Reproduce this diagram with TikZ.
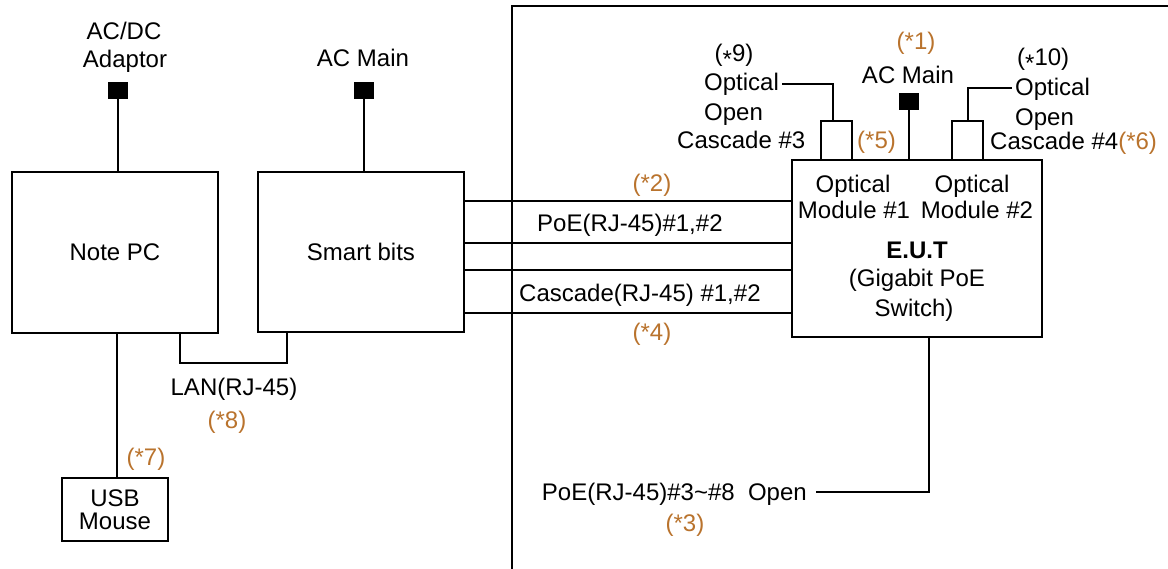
\documentclass[tikz,border=0pt]{standalone}
\usepackage{fontspec}
\setmainfont{Liberation Sans}
\definecolor{note}{RGB}{185,115,45}
\newcommand{\cstar}{\raisebox{-0.55ex}{*}}
\begin{document}
\begin{tikzpicture}[x=1pt,y=-1pt,
  font=\fontsize{24}{28}\selectfont,
  wire/.style={line width=2pt},
  unit/.style={draw, line width=2pt, inner sep=0pt, outer sep=0pt, anchor=north west, align=center},
  plug/.style={fill=black, inner sep=0pt, outer sep=0pt, anchor=north west},
  lbl/.style={inner sep=0pt, anchor=base},
  lblw/.style={inner sep=0pt, anchor=base west},
  refl/.style={lbl, text=note},
]
\useasboundingbox (0,0) rectangle (1168,568);

% outer frame of the test area
\draw[wire] (512,570) -- (512,6) -- (1170,6);

% units
\node[unit, minimum width=206pt, minimum height=161pt] (pc) at (12,172) {Note PC};
\node[unit, minimum width=206pt, minimum height=160pt] (sb) at (258,172) {Smart bits};
\node[unit, minimum width=250pt, minimum height=177pt] (eut) at (792,160) {};
\node[unit, minimum width=106pt, minimum height=63pt, font=\fontsize{24}{23}\selectfont] (mouse) at (62,478) {USB\\Mouse};

% plugs and ports
\node[plug, minimum width=20pt, minimum height=17pt] (plug1) at (108,82) {};
\node[plug, minimum width=20pt, minimum height=17pt] (plug2) at (354,82) {};
\node[plug, minimum width=20pt, minimum height=17pt] (plug3) at (899,93) {};
\node[unit, minimum width=31pt, minimum height=39pt] (port1) at (821,121) {};
\node[unit, minimum width=31pt, minimum height=39pt] (port2) at (952,121) {};

% texts
\node[lbl] (t-acdc) at (124,39) {AC/DC};
\node[lbl] (t-adap) at (125,67) {Adaptor};
\node[lbl] (t-acm1) at (363,66) {AC Main};

\node[lbl] (t-n9) at (734,61) {(\cstar9)};
\node[lblw, inner xsep=3pt] (opt9) at (701,90) {Optical};
\node[lblw] (t-open9) at (704,120) {Open};
\node[lblw] (t-cas3) at (677,148) {Cascade \#3};
\node[refl, anchor=base west] (t-n5) at (857,148) {(*5)};

\node[refl] (t-n1) at (916,49) {(*1)};
\node[lbl] (t-acm2) at (908,83) {AC Main};

\node[lblw] (t-n10) at (1017,65) {(\cstar10)};
\node[lblw, inner xsep=3pt] (opt10) at (1012,95) {Optical};
\node[lblw] (t-open10) at (1015,125) {Open};
\node[lblw] (t-cas4) at (990,149) {Cascade \#4\textcolor{note}{(*6)}};

\node[lbl] (t-om1a) at (853,192) {Optical};
\node[lbl] (t-om1b) at (854,218) {Module \#1};
\node[lbl] (t-om2a) at (972,192) {Optical};
\node[lbl] (t-om2b) at (977,218) {Module \#2};
\node[lbl, font=\fontsize{24}{28}\selectfont\bfseries] (t-eut) at (917,258) {E.U.T};
\node[lbl] (t-gig) at (917,286) {(Gigabit PoE};
\node[lbl] (t-sw) at (914,316) {Switch)};

\node[refl] (t-n2) at (652,191) {(*2)};
\node[lblw] (t-poe12) at (537,231) {PoE(RJ-45)\#1,\#2};
\node[lblw] (t-cas12) at (519,301) {Cascade(RJ-45) \#1,\#2};
\node[refl] (t-n4) at (652,340) {(*4)};

\node[lbl] (t-lan) at (234,395) {LAN(RJ-45)};
\node[refl] (t-n8) at (227,428) {(*8)};
\node[refl] (t-n7) at (146,465) {(*7)};

\node[lbl, anchor=base east, inner xsep=9pt] (poe3) at (816,500) {PoE(RJ-45)\#3\textasciitilde\#8\ \ Open};
\node[refl] (t-n3) at (685,531) {(*3)};

% connectors
\draw[wire] (plug1.south) -- (plug1.south |- pc.north);
\draw[wire] (plug2.south) -- (plug2.south |- sb.north);
\draw[wire] (plug3.south) -- (plug3.south |- eut.north);

\foreach \yy [count=\i] in {201,243,270,313} {
  \coordinate (h\i) at (600,\yy);
  \draw[wire] (sb.east |- h\i) -- (eut.west |- h\i);
}

\coordinate (lanL) at (180,363);
\coordinate (lanR) at (287,363);
\draw[wire] (pc.south -| lanL) -- (lanL) -- (lanR) -- (sb.south -| lanR);

\coordinate (ms) at (117,400);
\draw[wire] (pc.south -| ms) -- (mouse.north -| ms);

\coordinate (pc3) at (929,492);
\draw[wire] (eut.south -| pc3) -- (pc3) -- (pc3 -| poe3.east);

\coordinate (w9) at (833,84);
\draw[wire] (port1.north -| w9) -- (w9) -- (w9 -| opt9.east);
\coordinate (w10) at (968,88);
\draw[wire] (port2.north -| w10) -- (w10) -- (w10 -| opt10.west);
\end{tikzpicture}
\end{document}
